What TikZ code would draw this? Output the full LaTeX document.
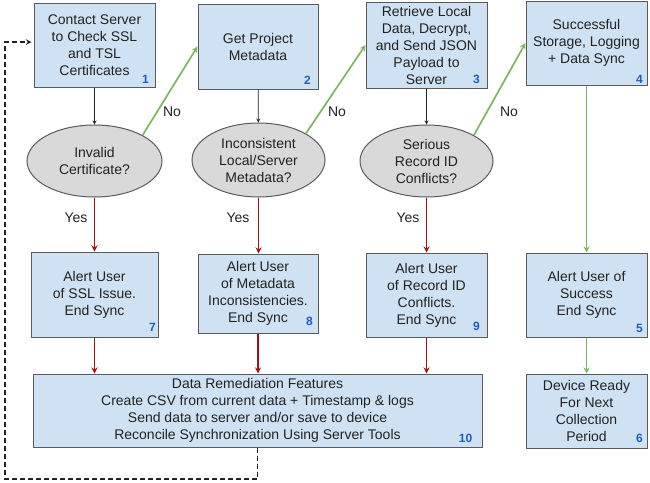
\documentclass[tikz,border=0pt]{standalone}
\usepackage{fontspec}
\setmainfont{Liberation Sans}
\usetikzlibrary{shapes.geometric}

\definecolor{boxfill}{HTML}{CFE2F3}
\definecolor{boxedge}{HTML}{5A5A5A}
\definecolor{askfill}{HTML}{D9D9D9}
\definecolor{yesred}{HTML}{A01414}
\definecolor{nogreen}{HTML}{7DB660}
\definecolor{numblue}{HTML}{1C5FBF}
\definecolor{ink}{HTML}{222222}

\begin{document}
\begin{tikzpicture}[
  x=1pt,y=-1pt,
  >=stealth,
  font=\fontsize{14}{17}\selectfont,
  text=ink,
  stepbox/.style={
  	rectangle,
  	draw=boxedge,
  	fill=boxfill,
  	line width=1pt,
  	align=center,
  	inner sep=2pt
  },
  ask/.style={
  	ellipse,
  	draw=boxedge,
  	fill=askfill,
  	line width=1pt,
  	align=center,
  	inner sep=0pt
  },
  num/.style={
  	font=\fontsize{12}{14}\selectfont\bfseries,
  	text=numblue,
  	inner sep=0pt
  },
  flow/.style={
  	->,
  	draw=ink,
  	line width=0.8pt
  },
  yes/.style={
  	->,
  	draw=yesred,
  	line width=1.7pt
  },
  no/.style={
  	->,
  	draw=nogreen,
  	line width=1.7pt
  },
  back/.style={
  	->,
  	draw=ink,
  	line width=1.5pt,
  	dash pattern=on 5pt off 3pt,
  	shorten >=2pt
  }
  ]
  \useasboundingbox (0,0) rectangle (650,482);

  % top row
  \node[stepbox,minimum width=121pt,minimum height=84pt] (b1) at (94.5,45)
    {Contact Server\\to Check SSL\\and TSL\\Certificates};
  \node[stepbox,minimum width=120pt,minimum height=85pt] (b2) at (258,46.5)
    {Get Project\\Metadata};
  \node[stepbox,minimum width=121pt,minimum height=86pt] (b3) at (426.5,45)
    {Retrieve Local\\Data, Decrypt,\\and Send JSON\\Payload to\\Server};
  \node[stepbox,minimum width=121pt,minimum height=84pt] (b4) at (586.5,43)
    {Successful\\Storage, Logging\\+ Data Sync};

  % questions
  \node[ask,minimum width=135pt,minimum height=72pt] (e1) at (94.5,161)
    {Invalid\\Certificate?};
  \node[ask,minimum width=133pt,minimum height=74pt] (e2) at (258.5,160)
    {Inconsistent\\Local/Server\\Metadata?};
  \node[ask,minimum width=133pt,minimum height=72pt] (e3) at (426.5,161)
    {Serious\\Record ID\\Conflicts?};

  % alerts
  \node[stepbox,minimum width=127pt,minimum height=85pt] (b7) at (94.5,294.5)
    {Alert User\\of SSL Issue.\\End Sync};
  \node[stepbox,minimum width=120pt,minimum height=79pt] (b8) at (258,293.5)
    {Alert User\\of Metadata\\Inconsistencies.\\End Sync};
  \node[stepbox,minimum width=121pt,minimum height=84pt] (b9) at (426.5,295)
    {Alert User\\of Record ID\\Conflicts.\\End Sync};
  \node[stepbox,minimum width=121pt,minimum height=84pt] (b5) at (586.5,295)
    {Alert User of\\Success\\End Sync};

  % bottom row
  \node[stepbox,minimum width=449pt,minimum height=73pt] (b10) at (257.5,410.5)
    {Data Remediation Features\\Create CSV from current data + Timestamp \& logs\\Send data to server and/or save to device\\Reconcile Synchronization Using Server Tools};
  \node[stepbox,minimum width=121pt,minimum height=74pt] (b6) at (586.5,411)
    {Device Ready\\For Next\\Collection\\Period};

  % step numbers
  \foreach \b/\d/\dx/\dy in {b1/1/-10/-8,b2/2/-11/-9,b3/3/-11/-9,b4/4/-8/-6,
    b7/7/-6/-10,b8/8/-9/-12,b9/9/-11/-11,b5/5/-8/-9,b10/10/-17/-9,b6/6/-8/-10}
  \node[num] (n\d) at ([shift={(\dx,\dy)}]\b.south east) {\d};

  % plain flow
  \draw[flow] (b1) -- (e1);
  \draw[flow] (b2) -- (e2);
  \draw[flow] (b3) -- (e3);

  % no branches
  \draw[no] (e1.north east) -- (b2.west);
  \draw[no] (e2.north east) -- (b3.west);
  \draw[no] (e3.north east) -- (b4.west);
  \draw[no] (b4) -- (b5);
  \draw[no] (b5) -- (b6);
  \node (no1) at (172,112) {No};
  \node (no2) at (337,112) {No};
  \node (no3) at (509,112) {No};

  % yes branches
  \draw[yes] (e1) -- (e1 |- b7.north);
  \draw[yes] (e2) -- (e2 |- b8.north);
  \draw[yes] (e3) -- (e3 |- b9.north);
  \node (yes1) at (76,218) {Yes};
  \node (yes2) at (238,218) {Yes};
  \node (yes3) at (408,218) {Yes};

  \draw[yes] (b7) -- (b7 |- b10.north);
  \draw[yes] (b8) -- (b8 |- b10.north);
  \draw[yes] (b9) -- (b9 |- b10.north);

  % back to start
  \coordinate (ret) at (5,479);
  \draw[back] (b10.south) |- (ret) |- ([yshift=3pt]b1.west);

\end{tikzpicture}
\end{document}
